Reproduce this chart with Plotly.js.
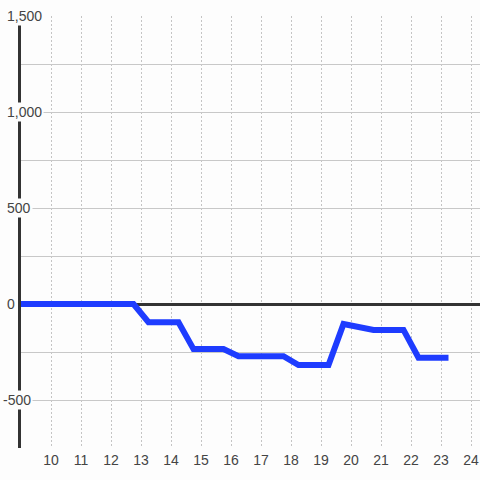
<!DOCTYPE html>
<html>
<head>
<meta charset="utf-8">
<script src="https://cdn.plot.ly/plotly-3.0.1.min.js"></script>
<style>html,body{margin:0;padding:0;background:#fdfdfd;}#chart{width:480px;height:480px;}</style>
</head>
<body>
<div id="chart"></div>
<script>
var hours = [8.75, 9.25, 9.75, 10.25, 10.75, 11.25, 11.75, 12.25, 12.75, 13.25, 13.75, 14.25, 14.75, 15.25, 15.75,
             16.25, 16.75, 17.25, 17.75, 18.25, 18.75, 19.25, 19.75, 20.25, 20.75, 21.25, 21.75, 22.25, 22.75, 23.25];
var values = [0, 0, 0, 0, 0, 0, 0, 0, 0, -95, -95, -95, -235, -235, -235,
              -272, -272, -272, -272, -318, -318, -318, -104, -123, -135, -135, -135, -280, -280, -280];
var xTickVals = [10, 11, 12, 13, 14, 15, 16, 17, 18, 19, 20, 21, 22, 23, 24];
var yLabelVals = [1500, 1000, 500, 0, -500];
var yLabelText = ['1,500', '1,000', '500', '0', '-500'];

var bg = '#fdfdfd';
var font = {family: 'Liberation Sans, Arial, sans-serif', size: 14, color: '#444'};

var annotations = yLabelVals.map(function (v, i) {
  var t = yLabelText[i];
  return {
    xref: 'paper', yref: 'y', x: 0, y: v,
    xanchor: 'left', yanchor: 'middle',
    xshift: (t.charAt(0) === '-' ? -20 : -16),
    text: t, showarrow: false, font: font,
    bgcolor: bg, borderpad: 1
  };
});

var trace = {
  x: hours, y: values, type: 'scatter', mode: 'lines',
  line: {color: '#1e3cff', width: 6, shape: 'linear'},
  hoverinfo: 'skip'
};

var layout = {
  width: 480, height: 480,
  margin: {l: 21, r: 0, t: 16, b: 32, pad: 0},
  paper_bgcolor: bg, plot_bgcolor: bg,
  showlegend: false,
  font: font,
  xaxis: {
    range: [9, 24.3], tickvals: xTickVals, ticktext: xTickVals.map(String),
    showgrid: true, gridcolor: '#c4c4c4', gridwidth: 1, griddash: '2px,2px',
    zeroline: false, showline: false, ticks: '', tickfont: font, ticklabelstandoff: 2, fixedrange: true
  },
  yaxis: {
    range: [-750, 1500], dtick: 250, tick0: 0, showticklabels: false,
    showgrid: true, gridcolor: '#c8c8c8', gridwidth: 1,
    zeroline: true, zerolinecolor: '#333333', zerolinewidth: 3,
    showline: true, linecolor: '#333333', linewidth: 3, ticks: '', fixedrange: true
  },
  annotations: annotations
};

Plotly.newPlot('chart', [trace], layout, {displayModeBar: false, staticPlot: true});
</script>
</body>
</html>
